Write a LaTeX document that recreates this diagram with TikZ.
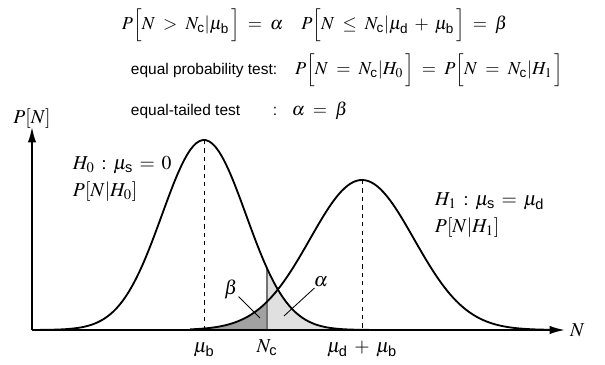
\documentclass[tikz,border=0pt]{standalone}
\usepackage{amsmath}
\usepackage{mathptmx}
\usepackage[no-math]{fontspec}
\setsansfont{Liberation Sans}
\usetikzlibrary{arrows.meta, positioning}
\newcommand{\ssf}[1]{\text{\sffamily #1}}
\newcommand{\widerel}{\thickmuskip=8mu\relax\medmuskip=6mu\relax}
\newcommand{\midrel}{\thickmuskip=6mu\relax}

\begin{document}
\begin{tikzpicture}[
    x=0.025cm, y=-0.025cm,
    axis/.style={draw, line width=1.3pt, -{Latex[length=11pt,width=6pt]}},
    curve/.style={draw, line width=1.3pt},
    guide/.style={draw, dashed, line width=0.6pt},
    leader/.style={draw, line width=0.6pt},
    mathlbl/.style={inner sep=0.5pt, font=\fontsize{14}{17}\selectfont\widerel},
    hyplbl/.style={inner sep=0.5pt, font=\fontsize{14}{17}\selectfont\midrel},
    toplbl/.style={inner sep=0.5pt, font=\fontsize{13}{16}\selectfont\widerel},
    txtlbl/.style={inner sep=0.5pt, font=\sffamily\fontsize{11}{13}\selectfont}
]
\useasboundingbox (0,0) rectangle (605,365);

% shaded tails (beta under H1, alpha under H0)
\fill[black!37] (190,330) -- plot[domain=190:267, samples=60] (\x, {330-150*exp(-0.5*((\x-362)/52)^2)}) -- (267,330) -- cycle;
\fill[black!12] (267,330) -- plot[domain=267:420, samples=60] (\x, {330-190*exp(-0.5*((\x-204)/42)^2)}) -- (420,330) -- cycle;

% points on the axes
\coordinate (O) at (32,330);
\coordinate (xend) at (565,330);
\coordinate (yend) at (32,127);
\coordinate (pk0) at (204,140);
\coordinate (mub) at (204,330);
\coordinate (pk1) at (362,180);
\coordinate (mudb) at (362,330);
\coordinate (nc) at (267,330);
\coordinate (nctop) at (267,268.3);

% Nc cut
\draw[black!55, line width=1pt] (nc) -- (nctop);

% the two distributions
\draw[curve] plot[domain=40:420, samples=120] (\x, {330-190*exp(-0.5*((\x-204)/42)^2)});
\draw[curve] plot[domain=190:550, samples=120] (\x, {330-150*exp(-0.5*((\x-362)/52)^2)});

% means
\path[guide] (pk0) -- (mub);
\path[guide] (pk1) -- (mudb);

% axes
\path[axis] (O) -- (xend);
\path[axis] (O) -- (yend);
\node[mathlbl, right=3pt of xend] (xlbl) {$N$};
\node[mathlbl, inner sep=0pt, above=-1pt of yend] (ylbl) {$P[N]$};

% tick labels
\node[mathlbl, anchor=base] (mublbl) at (204,353) {$\mu_{\ssf{b}}$};
\node[mathlbl, anchor=base] (nclbl) at (267,353) {$N_{\ssf{c}}$};
\node[mathlbl, anchor=base] (mudblbl) at (362,353) {$\mu_{\ssf{d}} + \mu_{\ssf{b}}$};

% hypotheses
\node[hyplbl, anchor=base west] (h0) at (72,170) {$H_0 : \mu_{\ssf{s}} = 0$};
\node[hyplbl, anchor=base west] (h0p) at (72,197) {$P[N|H_0]$};
\node[hyplbl, anchor=base west] (h1) at (434,206) {$H_1 : \mu_{\ssf{s}} = \mu_{\ssf{d}}$};
\node[hyplbl, anchor=base west] (h1p) at (434,233) {$P[N|H_1]$};

% areas
\coordinate (bend) at (260,318);
\coordinate (aend) at (284,316);
\node[mathlbl] (beta) at (231,289) {$\beta$};
\node[mathlbl] (alpha) at (321,282) {$\alpha$};
\path[leader] (beta) -- (bend);
\path[leader] (alpha) -- (aend);

% definitions on top
\node[toplbl, anchor=base west] (eq1) at (121,30)
    {$P\Big[N > N_{\ssf{c}}|\mu_{\ssf{b}}\,\Big] = \alpha \quad P\Big[N \leq N_{\ssf{c}}|\mu_{\ssf{d}} + \mu_{\ssf{b}}\,\Big] = \beta$};
\node[txtlbl, anchor=base west] (txt2) at (130,75) {equal probability test:};
\node[toplbl, anchor=base west, xshift=0.4cm] (eq2) at (txt2.base east)
    {$P\Big[N = N_{\ssf{c}}|H_0\,\Big] = P\Big[N = N_{\ssf{c}}|H_1\,\Big]$};
\node[txtlbl, anchor=base west] (txt3) at (130,116) {equal-tailed test};
\node[txtlbl, anchor=base east] (colon3) at (txt2.base east |- txt3.base) {:};
\node[toplbl, anchor=base west, xshift=9pt] (eq3) at (colon3.base east) {$\alpha = \beta$};
\end{tikzpicture}
\end{document}
